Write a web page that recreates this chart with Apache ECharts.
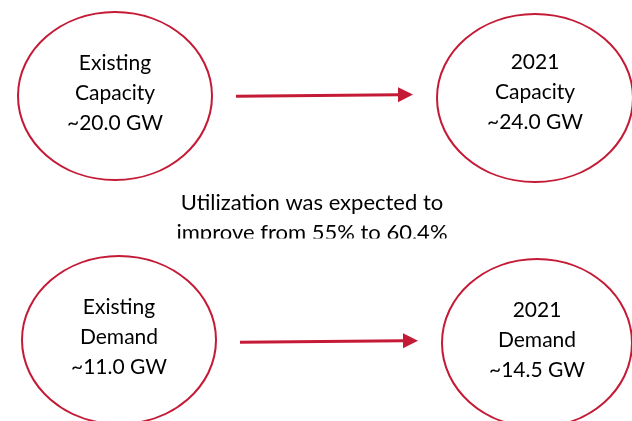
<!DOCTYPE html>
<html>
<head>
<meta charset="utf-8">
<script src="https://cdn.jsdelivr.net/npm/echarts@6/dist/echarts.min.js"></script>
<style>
  html, body { margin: 0; padding: 0; background: #fff; }
  #main { width: 632px; height: 421px; }
</style>
</head>
<body>
<div id="main"></div>
<script>
// data
const stages = ["Existing", "2021"];
const metrics = ["Capacity", "Demand"];
const values = [
  [20.0, 24.0], // capacity
  [11.0, 14.5], // demand
];
const unit = "GW";
const noteLines = ["Utilization was expected to", "improve from 55% to 60.4%"];

// layout (one row per metric, one column per stage)
const nodeBox = [
  [{ cx: 115, cy: 96, rx: 97, ry: 84, ty: 93 }, { cx: 535, cy: 98, rx: 98, ry: 84, ty: 92 }],
  [{ cx: 119, cy: 340, rx: 97, ry: 84, ty: 337 }, { cx: 537, cy: 343, rx: 95, ry: 84, ty: 340 }],
];
const arrowBox = [
  { x1: 236, y1: 96.3, x2: 413, y2: 94.5 },
  { x1: 240, y1: 342.3, x2: 418, y2: 340.7 },
];
const RED = "#C41A36";
const FONT = "Lato, 'Open Sans', sans-serif";

const chart = echarts.init(document.getElementById("main"), null, { renderer: "canvas" });

const elements = [];

metrics.forEach((metric, r) => {
  stages.forEach((stage, c) => {
    const b = nodeBox[r][c];
    elements.push({
      type: "ellipse",
      shape: { cx: b.cx, cy: b.cy, rx: b.rx, ry: b.ry },
      style: { fill: "#fff", stroke: RED, lineWidth: 2 },
      z: 1,
    });
    elements.push({
      type: "text",
      x: b.cx,
      y: b.ty,
      style: {
        text: [stage, metric, "~" + values[r][c].toFixed(1) + " " + unit].join("\n"),
        fill: "#000",
        font: "21px " + FONT,
        lineHeight: 30,
        align: "center",
        verticalAlign: "middle",
      },
      z: 2,
    });
  });

  // arrow: shaft + triangular head
  const a = arrowBox[r];
  const head = 15, half = 7.5;
  const bx = a.x2 - head;
  const by = a.y2 + (a.y1 - a.y2) * head / (a.x2 - a.x1);
  elements.push({
    type: "line",
    shape: { x1: a.x1, y1: a.y1, x2: bx + 1, y2: by },
    style: { stroke: RED, lineWidth: 3 },
    z: 1,
  });
  elements.push({
    type: "polygon",
    shape: { points: [[a.x2, a.y2], [bx, by - half], [bx, by + half]] },
    style: { fill: RED },
    z: 1,
  });
});

// note text between the rows
elements.push({
  type: "text",
  x: 312,
  y: 218,
  style: {
    text: noteLines.join("\n"),
    fill: "#000",
    font: "22px " + FONT,
    lineHeight: 30,
    align: "center",
    verticalAlign: "middle",
  },
  z: 2,
});
// the second line is cut off at the bottom in the original
elements.push({
  type: "rect",
  shape: { x: 170, y: 238.5, width: 290, height: 16 },
  style: { fill: "#fff" },
  z: 3,
});

chart.setOption({
  backgroundColor: "#fff",
  animation: false,
  graphic: { elements: elements },
});
</script>
</body>
</html>
